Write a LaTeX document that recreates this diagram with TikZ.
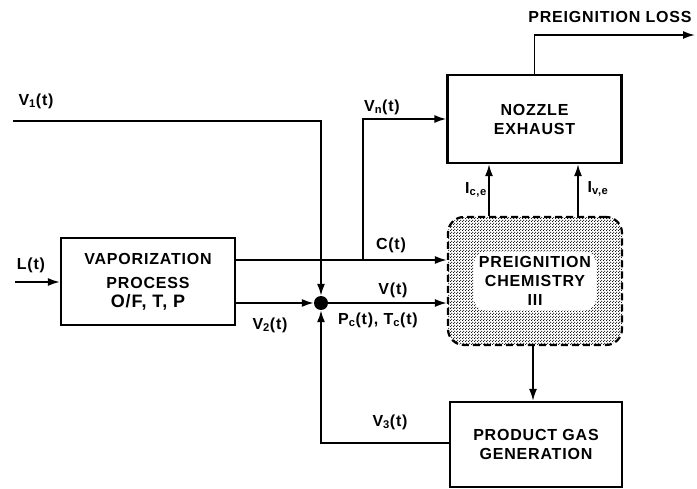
\documentclass[tikz,border=0pt]{standalone}
\usepackage{fontspec}
\setmainfont{Liberation Sans}[LetterSpace=5]
\usetikzlibrary{positioning,arrows.meta,patterns.meta}

\tikzdeclarepattern{
  name=densedots,
  type=uncolored,
  bottom left={(0pt,0pt)},
  top right={(3pt,3pt)},
  tile size={(3pt,3pt)},
  code={\fill (0.75pt,0.75pt) circle (0.75pt);
        \fill (2.25pt,2.25pt) circle (0.75pt);}
}

\begin{document}
\begin{tikzpicture}[
                x=1pt, y=-1pt,
                font=\fontsize{16}{19}\selectfont\bfseries,
                box/.style={draw, line width=2.2pt, align=center,
                            minimum width=174pt, minimum height=87pt},
                chembox/.style={draw, line width=2.2pt, dash pattern=on 7pt off 4pt,
                                rounded corners=16pt, pattern=densedots,
                                minimum width=174pt, minimum height=128pt},
                blob/.style={fill=white, rounded corners=12pt, align=center,
                             inner sep=5pt},
                lbl/.style={inner sep=1pt},
                arr/.style={-{Latex[length=12pt,width=8pt]}, line width=1.8pt}
            ]
                \useasboundingbox (0,0) rectangle (697,489);
                % blocks
                \node[box] (vap) at (148,281.5)
                    {VAPORIZATION\\[5pt]PROCESS\\{\fontsize{18}{19}\selectfont O/F, T, P}};
                \node[box, minimum height=88pt] (noz) at (534.5,119) {NOZZLE\\EXHAUST};
                \node[chembox] (chem) at (535,281) {};
                \node[blob] (chemtxt) at (chem) {PREIGNITION\\CHEMISTRY\\III};
                \node[box, minimum width=172pt, minimum height=85pt] (prod) at (536,444.5)
                    {PRODUCT GAS\\GENERATION};
                \node[circle, fill, inner sep=0pt, minimum size=14pt] (sum) at (321,303) {};
                % free ends
                \coordinate (v1in) at (13,121);
                \coordinate (lin) at (15,282);
                \coordinate (tap) at (363,260);
                \coordinate (loss) at (695,35);
                % signals
                \draw[arr] (v1in) -| (sum.north);
                \draw[arr] (lin) -- (vap.west |- lin);
                \draw[arr] ([yshift=21.5pt]vap.east) -- (chem.west |- tap);
                \draw[arr] (tap) |- (noz.west);
                \draw[arr] ([yshift=-21.5pt]vap.east) -- (sum.west);
                \draw[arr] (sum.east) -- (chem.west |- sum);
                \draw[arr] ([xshift=-46pt]chem.north) -- ([xshift=-45.5pt]noz.south);
                \draw[arr] ([xshift=43pt]chem.north) -- ([xshift=43.5pt]noz.south);
                \draw[arr] (noz.north) |- (loss);
                \draw[arr] ([xshift=-2pt]chem.south) -- ([xshift=-3pt]prod.north);
                \draw[arr] ([yshift=1.5pt]prod.west) -| (sum.south);
                % labels
                \node[lbl] (lv1) at (36,101) {V\textsubscript{1}(t)};
                \node[lbl] (ll) at (31,265) {L(t)};
                \node[lbl] (lv2) at (270,325) {V\textsubscript{2}(t)};
                \node[lbl] (lc) at (391,245) {C(t)};
                \node[lbl] (lv) at (393,290) {V(t)};
                \node[lbl] (lpt) at (378,320) {P\textsubscript{c}(t), T\textsubscript{c}(t)};
                \node[lbl] (lvn) at (382,107) {V\textsubscript{n}(t)};
                \node[lbl] (lv3) at (390,422) {V\textsubscript{3}(t)};
                \node[lbl] (lice) at (476,190) {I\textsubscript{c,e}};
                \node[lbl] (live) at (598,189) {I\textsubscript{v,e}};
                \node[lbl] (lloss) at (610,17) {PREIGNITION LOSS};
            \end{tikzpicture}
\end{document}
